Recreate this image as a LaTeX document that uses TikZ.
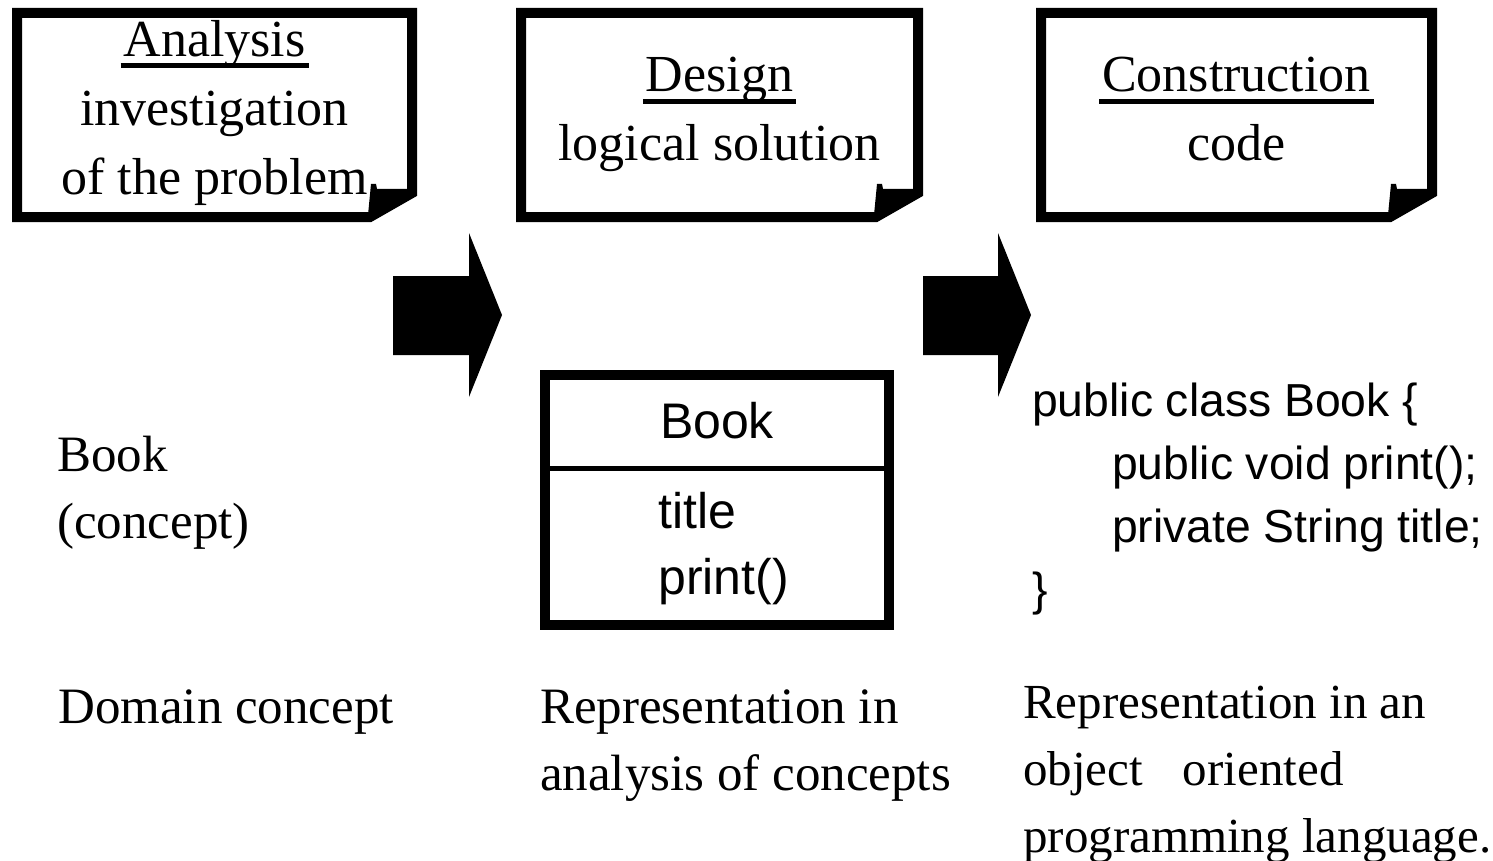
\documentclass[tikz,border=0pt]{standalone}
\usepackage{fontspec}
\setmainfont{Liberation Serif}
\setsansfont{Liberation Sans}
% text sizes (1pt = one unit of the drawing)
\newcommand\serifsize{\fontsize{51pt}{67pt}\selectfont}
\newcommand\smallserifsize{\fontsize{49pt}{67pt}\selectfont}
\newcommand\notesize{\fontsize{52pt}{69pt}\selectfont}
\newcommand\codesize{\fontsize{46.3pt}{63pt}\selectfont\sffamily}
\newcommand\classsize{\fontsize{50pt}{66pt}\selectfont\sffamily}
% heavy underline for the phase titles
\newcommand\phasetitle[1]{\setbox0\hbox{#1}\rlap{\kern-3pt\rule[-12pt]{\dimexpr\wd0+6pt\relax}{4.5pt}}\box0}
\begin{document}
\begin{tikzpicture}[x=1pt,y=-1pt,
  txt/.style={inner sep=0pt, font=\serifsize, align=left},
  notetxt/.style={inner sep=0pt, font=\notesize, align=center},
  code/.style={inner sep=0pt, font=\codesize, align=left},
  cls/.style={inner sep=0pt, font=\classsize},
  frame/.style={line width=10pt, line join=miter},
  blockarrow/.style={fill=black}]
\useasboundingbox (0,0) rectangle (1493,861);

% dog-eared note frames
\foreach \L/\R in {12/417, 516/923, 1036/1437} {
  \draw[frame] (\L+5,13) -- (\R-5,13) -- (\R-5,193) -- (\R-47,217) -- (\L+5,217) -- cycle;
  \fill (\R-46,184) -- (\R-41,184) -- (\R-40,189) -- (\R-5,189) -- (\R-49,215) -- cycle;
}

% note texts (base anchor = baseline of the last line)
\node[notetxt, anchor=base] (analysis) at (214.5,194)
  {\phasetitle{Analysis}\\investigation\\of the problem};
\node[notetxt, anchor=base] (design) at (719.5,161)
  {\phasetitle{Design}\\logical solution};
\node[notetxt, anchor=base] (construction) at (1236.5,161)
  {\phasetitle{Construction}\\code};

% block arrows between the phases
\fill[blockarrow] (393,276) -- (469,276) -- (469,233) -- (502,315) -- (469,397) -- (469,355) -- (393,355) -- cycle;
\fill[blockarrow] (923,276) -- (998,276) -- (998,233) -- (1031,315) -- (998,397) -- (998,355) -- (923,355) -- cycle;

% domain concept
\node[txt, anchor=base west] (concept) at (57,538) {Book\\(concept)};
\node[txt, anchor=base west] (domain) at (58,723) {Domain concept};

% class box
\node[draw, line width=10pt, inner sep=0pt, minimum width=344pt, minimum height=250pt] (class) at (717,500) {};
\draw[line width=5pt] (545,468.5) -- (889,468.5);
\node[cls, anchor=base] (classname) at (717,438) {Book};
\node[cls, anchor=base west] (attr) at (658,528) {title};
\node[cls, anchor=base west] (oper) at (658,594) {print()};
\node[txt, anchor=base west] (repr) at (540,790) {Representation in\\analysis of concepts};

% source code
\node[code, anchor=base west] (src) at (1032,605)
  {public class Book \{\\\hspace*{80pt}public void print();\\\hspace*{80pt}private String title;\\\}};
\node[txt, font=\smallserifsize, anchor=base west] (oo) at (1023,852)
  {Representation in an\\object\hspace{40pt}oriented\\programming language.};
\end{tikzpicture}
\end{document}
